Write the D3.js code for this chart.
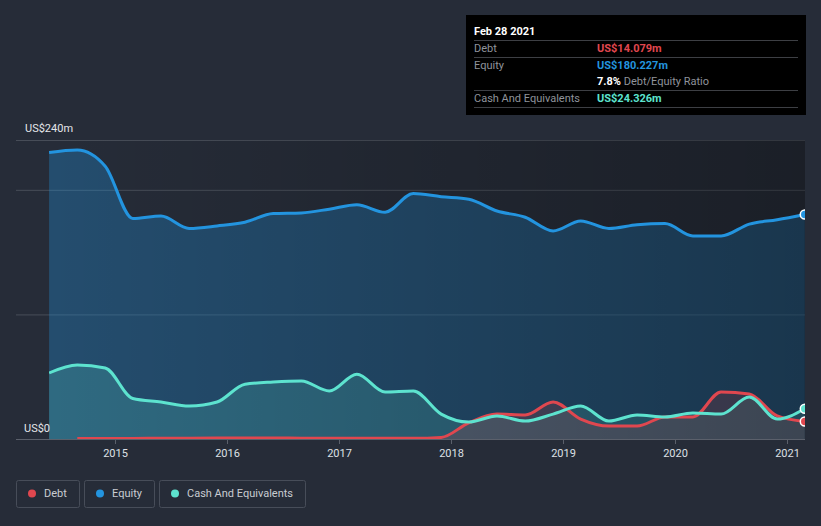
<!DOCTYPE html>
<html lang="en">
<head>
  <meta charset="UTF-8">
  <title>Debt / Equity history</title>
  <script src="https://d3js.org/d3.v7.min.js"></script>
  <style>
    body { margin: 0; background: #262c38; font-family: Roboto, sans-serif; }
    svg { display: block; }
  </style>
</head>
<body>
  <svg id="chart" width="821" height="526"></svg>
  <script>
    // quarter ends (fiscal year ends Feb)
    const dates = [
      "2014-05-31", "2014-08-31", "2014-11-30", "2015-02-28", "2015-05-31", "2015-08-31", "2015-11-30",
      "2016-02-29", "2016-05-31", "2016-08-31", "2016-11-30", "2017-02-28", "2017-05-31", "2017-08-31",
      "2017-11-30", "2018-02-28", "2018-05-31", "2018-08-31", "2018-11-30", "2019-02-28", "2019-05-31",
      "2019-08-31", "2019-11-30", "2020-02-29", "2020-05-31", "2020-08-31", "2020-11-30", "2021-02-28"
    ];
    // values in US$m
    const equity = [230, 232, 219, 177, 179, 169, 171, 174, 181, 181.5, 184.5, 188, 182, 197,
                    194.5, 192.5, 183, 178, 167, 175, 169, 172, 173, 163, 163, 172.5, 176, 180.227];
    const cash = [53, 59.4, 57, 32.5, 29.7, 26.5, 29.7, 44, 45.7, 46.5, 38.5, 52, 37.7, 38.5,
                  20, 13.6, 18.5, 14.4, 20, 26.5, 14.4, 19.3, 17.7, 20.9, 20, 33.7, 16, 24.326];
    const debt = [null, 0.5, 0.5, 0.5, 0.6, 0.7, 0.8, 0.8, 0.8, 0.7, 0.6, 0.6, 0.6, 0.6,
                  1.3, 13, 20, 19.3, 29.7, 16, 10.4, 10.4, 17.7, 17.7, 37.7, 36.1, 18.5, 14.079];
    const yTicks = [0, 100, 200, 240];
    const xTicks = ["2015", "2016", "2017", "2018", "2019", "2020", "2021"];

    const series = [
      { name: "Debt", values: debt, color: "#e0474f", fillOp: 0.22 },
      { name: "Equity", values: equity, color: "#2394df", fillOp: 0.32 },
      { name: "Cash And Equivalents", values: cash, color: "#5de3cf", fillOp: 0.2 }
    ];

    const parse = d3.timeParse("%Y-%m-%d");
    const dts = dates.map(parse);

    const svg = d3.select("#chart");
    const x = d3.scaleTime()
      .domain([new Date(2015, 0, 1), new Date(2021, 0, 1)])
      .range([115, 787]);
    const y = d3.scaleLinear().domain([0, 240]).range([439, 140]);
    const left = 16, right = 805;
    const x0 = x(dts[0]);

    const defs = svg.append("defs");
    defs.append("clipPath").attr("id", "clip")
      .append("rect").attr("x", x0).attr("y", 100).attr("width", right - x0).attr("height", 340);
    const shade = defs.append("linearGradient").attr("id", "shade")
      .attr("x1", 0).attr("x2", 1).attr("y1", 0).attr("y2", 0);
    shade.append("stop").attr("offset", 0).attr("stop-color", "#000").attr("stop-opacity", 0);
    shade.append("stop").attr("offset", 1).attr("stop-color", "#000").attr("stop-opacity", 0.3);

    // gridlines
    svg.append("g").selectAll("line")
      .data(yTicks.filter(d => d > 0))
      .join("line")
        .attr("x1", left).attr("x2", right)
        .attr("y1", d => y(d) + 0.5).attr("y2", d => y(d) + 0.5)
        .attr("stroke", "#474d58").attr("stroke-width", 1);

    const plot = svg.append("g").attr("clip-path", "url(#clip)");

    const area = vals => d3.area()
      .defined((d, i) => vals[i] != null)
      .x((d, i) => x(dts[i]))
      .y0(y(0))
      .y1((d, i) => y(vals[i]))
      .curve(d3.curveMonotoneX)(vals);
    const line = vals => d3.line()
      .defined((d, i) => vals[i] != null)
      .x((d, i) => x(dts[i]))
      .y((d, i) => y(vals[i]))
      .curve(d3.curveMonotoneX)(vals);

    // areas: equity behind, then cash and debt
    [series[1], series[2], series[0]].forEach(s => {
      plot.append("path")
        .attr("d", area(s.values))
        .attr("fill", s.color)
        .attr("fill-opacity", s.fillOp);
    });

    // darkening toward the right
    plot.append("rect")
      .attr("x", x0).attr("y", 140)
      .attr("width", right - x0).attr("height", y(0) - 140)
      .attr("fill", "url(#shade)");

    series.forEach(s => {
      plot.append("path")
        .attr("d", line(s.values))
        .attr("fill", "none")
        .attr("stroke", s.color)
        .attr("stroke-width", 3)
        .attr("stroke-linejoin", "round");
    });

    series.forEach(s => {
      const n = s.values.length - 1;
      plot.append("circle")
        .attr("cx", x(dts[n])).attr("cy", y(s.values[n]))
        .attr("r", 4.5)
        .attr("fill", s.color)
        .attr("stroke", "#fff").attr("stroke-width", 1.5);
    });

    // zero line and x axis
    svg.append("line")
      .attr("x1", left).attr("x2", right)
      .attr("y1", y(0) + 0.5).attr("y2", y(0) + 0.5)
      .attr("stroke", "#5b606b").attr("stroke-width", 1);

    const xAxis = svg.append("g");
    xTicks.forEach(t => {
      const px = Math.round(x(new Date(+t, 0, 1))) + 0.5;
      xAxis.append("line")
        .attr("x1", px).attr("x2", px).attr("y1", y(0) + 1).attr("y2", y(0) + 5)
        .attr("stroke", "#5b606b");
      xAxis.append("text")
        .attr("x", px).attr("y", 457)
        .attr("text-anchor", "middle")
        .attr("fill", "#dde0e5")
        .style("font-size", "11px")
        .text(t);
    });

    svg.append("text").attr("x", 25).attr("y", 132)
      .attr("fill", "#e4e6ea").style("font-size", "11px").text("US$240m");
    svg.append("text").attr("x", 24).attr("y", 432)
      .attr("fill", "#e4e6ea").style("font-size", "11px").text("US$0");

    // tooltip box
    const tip = svg.append("g");
    tip.append("rect").attr("x", 466).attr("y", 15).attr("width", 340).attr("height", 100).attr("fill", "#000");
    tip.append("text").attr("x", 474).attr("y", 35)
      .attr("fill", "#fff").style("font-size", "11px").style("font-weight", "bold").text("Feb 28 2021");
    [40.5, 57.5, 90.5, 107.5].forEach(yy => {
      tip.append("line").attr("x1", 474).attr("x2", 798).attr("y1", yy).attr("y2", yy)
        .attr("stroke", "#3d3f44");
    });
    const rows = [
      { label: "Debt", val: "US$14.079m", color: series[0].color, y: 52 },
      { label: "Equity", val: "US$180.227m", color: series[1].color, y: 69 },
      { label: "Cash And Equivalents", val: "US$24.326m", color: series[2].color, y: 102 }
    ];
    rows.forEach(r => {
      tip.append("text").attr("x", 474).attr("y", r.y)
        .attr("fill", "#8f939b").style("font-size", "11px").text(r.label);
      tip.append("text").attr("x", 597).attr("y", r.y)
        .attr("fill", r.color).style("font-size", "11px").style("font-weight", "bold").text(r.val);
    });
    const ratio = tip.append("text").attr("x", 597).attr("y", 85).style("font-size", "11px");
    ratio.append("tspan").attr("fill", "#fff").style("font-weight", "bold").text("7.8%");
    ratio.append("tspan").attr("fill", "#8f939b").text(" Debt/Equity Ratio");

    // legend
    const legend = svg.append("g");
    let lx = 16;
    series.forEach(s => {
      const g = legend.append("g");
      const txt = g.append("text").attr("x", lx + 28).attr("y", 497)
        .attr("fill", "#c9ccd2").style("font-size", "11px").text(s.name);
      const w = Math.round(txt.node().getComputedTextLength()) + 40;
      g.insert("rect", "text").attr("x", lx + 0.5).attr("y", 480.5).attr("width", w).attr("height", 27)
        .attr("rx", 2).attr("fill", "none").attr("stroke", "#474d59");
      g.append("circle").attr("cx", lx + 16).attr("cy", 493.5).attr("r", 4).attr("fill", s.color);
      lx += w + 5;
    });
  </script>
</body>
</html>
